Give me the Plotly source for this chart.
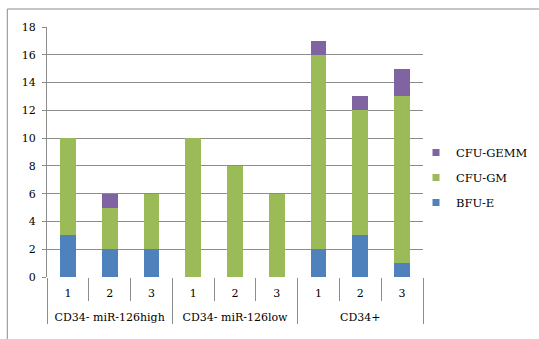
import plotly.graph_objects as go

groups = ["CD34- miR-126high", "CD34- miR-126low", "CD34+"]
samples = ["1", "2", "3"]

bfu_e = [3, 2, 2, 0, 0, 0, 2, 3, 1]
cfu_gm = [7, 3, 4, 10, 8, 6, 14, 9, 12]
cfu_gemm = [0, 1, 0, 0, 0, 0, 1, 1, 2]

y_ticks = [0, 2, 4, 6, 8, 10, 12, 14, 16, 18]

n_per = len(samples)
inner_labels = samples * len(groups)
pos = list(range(len(inner_labels)))
group_centers = [g * n_per + (n_per - 1) / 2 for g in range(len(groups))]
inner_bounds = [p - 0.5 for p in pos] + [pos[-1] + 0.5]
group_bounds = [g * n_per - 0.5 for g in range(len(groups) + 1)]

series = [
    ("BFU-E", bfu_e, "#4F81BD"),
    ("CFU-GM", cfu_gm, "#9BBB59"),
    ("CFU-GEMM", cfu_gemm, "#8064A2"),
]

fig = go.Figure()
for name, vals, color in series:
    fig.add_trace(go.Bar(x=pos, y=vals, name=name, marker_color=color,
                         marker_line_width=0, width=0.38, showlegend=False))
# small square legend keys, top-down order
for name, vals, color in reversed(series):
    fig.add_trace(go.Scatter(x=[0], y=[None], name=name, mode="markers",
                             legendgroup=name,
                             marker=dict(symbol="square", size=7, color=color)))
# empty trace so the group-label axis is drawn
fig.add_trace(go.Scatter(x=[0], y=[None], xaxis="x2", mode="markers",
                         showlegend=False, hoverinfo="skip"))

grid = "#8C8C8C"
fam = "DejaVu Serif"
font = dict(family=fam, size=11, color="#000000")

W, H = 539, 339
L, R, T, B = 46.7, 422.7, 27, 277
pw, ph = R - L, B - T
xr = [-0.5, pos[-1] + 0.5]

fig.update_layout(
    width=W, height=H,
    margin=dict(l=L, r=W - R, t=T, b=H - B, pad=0, autoexpand=False),
    barmode="stack",
    plot_bgcolor="white", paper_bgcolor="white",
    font=font,
    showlegend=True,
    legend=dict(traceorder="grouped", xref="container", yref="container",
                x=416 / W, y=1 - 138 / H, xanchor="left", yanchor="top",
                font=dict(family=fam, size=11.5), itemwidth=30,
                tracegroupgap=6, bgcolor="rgba(0,0,0,0)"),
    # sample numbers, with short separators between samples
    xaxis=dict(range=xr, tickmode="array", tickvals=pos, ticktext=inner_labels,
               ticks="", showgrid=False, showline=False, zeroline=False,
               ticklabelstandoff=8, tickfont=font,
               minor=dict(tickmode="array", tickvals=inner_bounds, ticks="outside",
                          ticklen=23, tickcolor=grid, tickwidth=1, showgrid=False)),
    # group names, with long separators between groups
    xaxis2=dict(range=xr, overlaying="x", anchor="y", side="bottom",
                tickmode="array", tickvals=group_centers, ticktext=groups,
                ticks="", showgrid=False, showline=False, zeroline=False,
                ticklabelstandoff=32, tickfont=font,
                minor=dict(tickmode="array", tickvals=group_bounds, ticks="outside",
                           ticklen=46, tickcolor=grid, tickwidth=1, showgrid=False)),
    yaxis=dict(range=[0, 18], tickvals=y_ticks, showgrid=True, gridcolor=grid,
               gridwidth=1, showline=True, linecolor=grid, linewidth=1,
               ticks="outside", ticklen=4, tickcolor=grid, tickfont=font,
               ticklabelstandoff=4, zeroline=False),
)

# outer chart frame (top and left edges)
fig.add_shape(type="line", xref="paper", yref="paper",
              x0=(7 - L) / pw, x1=(W + 5 - L) / pw, y0=(B - 9) / ph, y1=(B - 9) / ph,
              line=dict(color="#8C8C8C", width=1))
fig.add_shape(type="line", xref="paper", yref="paper",
              x0=(7 - L) / pw, x1=(7 - L) / pw, y0=(B - 9) / ph, y1=(B - H - 5) / ph,
              line=dict(color="#8C8C8C", width=1))

fig.write_html("out.html")
